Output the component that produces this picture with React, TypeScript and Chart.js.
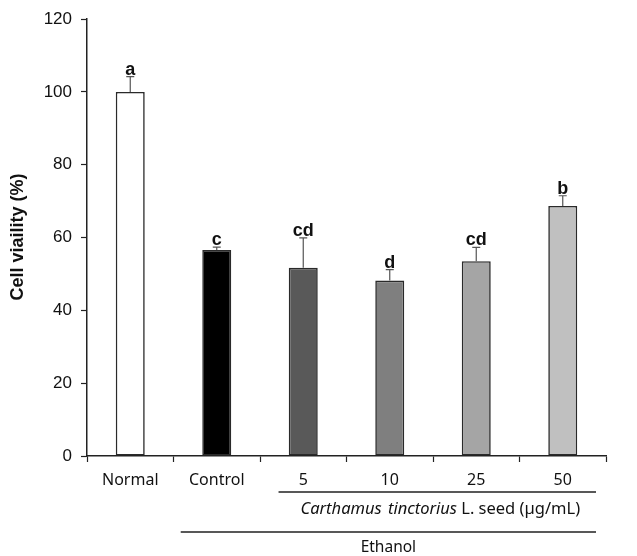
import React, { useEffect, useRef } from "react";
import { Chart, registerables } from "chart.js";

Chart.register(...registerables);

const categories = ["Normal", "Control", "5", "10", "25", "50"];
const values = [100, 56.6, 51.7, 48.2, 53.5, 68.7];
const errors = [4.2, 0.8, 8.2, 3.0, 3.8, 2.8];
const letters = ["a", "c", "cd", "d", "cd", "b"];
const barColors = ["#ffffff", "#000000", "#595959", "#7f7f7f", "#a5a5a5", "#c0c0c0"];
const yTicks = [0, 20, 40, 60, 80, 100, 120];
const yTitle = "Cell viaility (%)";
const groupItalic = "Carthamus tinctorius";
const groupRest = " L. seed (\u00b5g/mL)";
const outerGroup = "Ethanol";

const LABEL_FONT = "'Noto Sans', sans-serif";
const ARIAL = "'Liberation Sans', Arial, sans-serif";

const overlay = {
  id: "overlay",
  afterDatasetsDraw(chart: any) {
    const ctx = chart.ctx;
    const meta = chart.getDatasetMeta(0);
    const y = chart.scales.y;
    ctx.save();
    meta.data.forEach((bar: any, i: number) => {
      const top = y.getPixelForValue(values[i]);
      const et = y.getPixelForValue(values[i] + errors[i]);
      ctx.strokeStyle = "#555";
      ctx.lineWidth = 1.2;
      ctx.beginPath();
      ctx.moveTo(bar.x, top);
      ctx.lineTo(bar.x, et);
      ctx.moveTo(bar.x - 4, et);
      ctx.lineTo(bar.x + 4, et);
      ctx.stroke();
      ctx.fillStyle = "#111";
      ctx.font = `bold 18px ${ARIAL}`;
      ctx.textAlign = "center";
      ctx.textBaseline = "alphabetic";
      ctx.fillText(letters[i], bar.x, et - 2);
    });
    ctx.restore();
  },
  afterDraw(chart: any) {
    const ctx = chart.ctx;
    const x = chart.scales.x;
    const ca = chart.chartArea;
    const w = x.getPixelForValue(1) - x.getPixelForValue(0);
    ctx.save();
    ctx.fillStyle = "#111";
    ctx.font = `bold 18px ${ARIAL}`;
    ctx.textAlign = "center";
    ctx.textBaseline = "middle";
    ctx.translate(18, 237);
    ctx.rotate(-Math.PI / 2);
    ctx.fillText(yTitle, 0, 0);
    ctx.restore();

    ctx.save();
    ctx.strokeStyle = "#222";
    ctx.lineWidth = 1.3;
    const l1s = x.getPixelForValue(2) - w / 3.5;
    const l1e = x.getPixelForValue(5) + w / 2.6;
    const l2s = x.getPixelForValue(1) - w / 2.4;
    ctx.beginPath();
    ctx.moveTo(l1s, ca.bottom + 36);
    ctx.lineTo(l1e, ca.bottom + 36);
    ctx.moveTo(l2s, ca.bottom + 76);
    ctx.lineTo(l1e, ca.bottom + 76);
    ctx.stroke();

    ctx.fillStyle = "#111";
    ctx.textBaseline = "middle";
    ctx.textAlign = "left";
    (ctx as any).wordSpacing = "2px";
    const fi = `italic 16.5px ${LABEL_FONT}`;
    const fn = `16.5px ${LABEL_FONT}`;
    ctx.font = fi;
    const wi = ctx.measureText(groupItalic).width;
    ctx.font = fn;
    const wr = ctx.measureText(groupRest).width;
    const cx = (l1s + l1e) / 2 + 3;
    const sx = cx - (wi + wr) / 2;
    ctx.font = fi;
    ctx.fillText(groupItalic, sx, ca.bottom + 53);
    ctx.font = fn;
    ctx.fillText(groupRest, sx + wi, ca.bottom + 53);
    (ctx as any).wordSpacing = "0px";
    ctx.font = `15.5px ${LABEL_FONT}`;
    ctx.textAlign = "center";
    ctx.fillText(outerGroup, (l2s + l1e) / 2, ca.bottom + 92);
    ctx.restore();
  },
};

export default function App() {
  const ref = useRef<HTMLCanvasElement>(null);
  useEffect(() => {
    if (!ref.current) return;
    const chart = new Chart(ref.current, {
      type: "bar",
      data: {
        labels: categories,
        datasets: [
          {
            data: values,
            backgroundColor: barColors,
            borderColor: "#2a2a2a",
            borderWidth: 1.6,
            borderSkipped: false,
            barPercentage: 0.335,
            categoryPercentage: 1,
          },
        ],
      },
      options: {
        responsive: false,
        animation: false,
        layout: { padding: { top: 18, right: 31, left: 0, bottom: 0 } },
        plugins: { legend: { display: false }, tooltip: { enabled: false } },
        scales: {
          x: {
            offset: true,
            afterFit: (s: any) => {
              s.height = 100;
            },
            grid: {
              offset: true,
              drawOnChartArea: false,
              drawTicks: true,
              tickLength: 6,
              color: "#222",
              tickWidth: 1.2,
            },
            border: { color: "#222", width: 1.5 },
            ticks: {
              color: "#111",
              padding: 9,
              font: { family: LABEL_FONT, size: 16 },
            },
          },
          y: {
            min: 0,
            max: 120,
            afterFit: (s: any) => {
              s.width = 87;
            },
            afterBuildTicks: (s: any) => {
              s.ticks = yTicks.map((v) => ({ value: v }));
            },
            grid: {
              drawOnChartArea: false,
              tickLength: 6,
              color: "#222",
              tickWidth: 1.2,
            },
            border: { color: "#222", width: 1.5 },
            ticks: {
              color: "#111",
              padding: 9,
              font: { family: ARIAL, size: 17 },
            },
          },
        },
      },
      plugins: [overlay],
    });
    return () => chart.destroy();
  }, []);
  return (
    <div style={{ position: "fixed", left: 0, top: 0, width: 637, height: 556, background: "#fff" }}>
      <canvas ref={ref} width={637} height={556} style={{ display: "block" }} />
    </div>
  );
}
